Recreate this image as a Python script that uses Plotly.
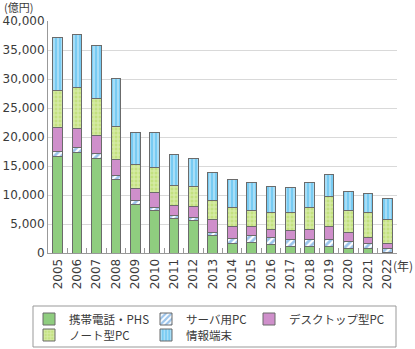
import plotly.graph_objects as go

years = [str(y) for y in range(2005, 2023)]
mobile = [16700, 17400, 16300, 12600, 8400, 7300, 5950, 5650, 3000, 1700, 1800, 1400, 1150, 1050, 1050, 850, 850, 150]
server = [800, 850, 800, 750, 700, 600, 600, 450, 600, 750, 1300, 1350, 1250, 1350, 1350, 1150, 800, 550]
desktop = [4100, 3200, 3100, 2850, 2100, 2600, 1700, 1900, 2250, 2150, 1500, 1350, 1500, 1700, 2250, 1450, 1050, 1000]
notebook = [6500, 7000, 6500, 5600, 4100, 4200, 3350, 3450, 3250, 3250, 2700, 2850, 3050, 3750, 5150, 3900, 4200, 4150]
info = [9000, 9150, 9000, 8250, 5500, 6100, 5400, 4900, 4700, 4750, 4850, 4500, 4300, 4300, 3800, 3250, 3350, 3550]

names = ["携帯電話・PHS", "サーバ用PC", "デスクトップ型PC", "ノート型PC", "情報端末"]
y_ticks = [0, 5000, 10000, 15000, 20000, 25000, 30000, 35000, 40000]

FONT = "Noto Sans CJK JP, Noto Sans, sans-serif"
NUMFONT = "DejaVu Sans, sans-serif"
TXT = "#3a3a3a"
W, H = 415, 349
ML, MR, MT, MB = 48, 18, 21, 96
PW, PH = W - ML - MR, H - MT - MB

def px_x(px):
    return (px - ML) / PW

def px_y(py):
    return (H - MB - py) / PH

line = dict(color="#6b6b6b", width=1)
fig = go.Figure()
fig.add_bar(x=years, y=mobile, name=names[0], legend="legend", showlegend=True,
            marker=dict(color="#8fcd7f", line=line))
fig.add_bar(x=years, y=server, name=names[1], legend="legend2", showlegend=True,
            marker=dict(color="#3a8ad8", line=line,
                        pattern=dict(shape="/", fgcolor="#3a8ad8", bgcolor="#ffffff", size=5, solidity=0.55)))
fig.add_bar(x=years, y=desktop, name=names[2], legend="legend3", showlegend=True,
            marker=dict(color="#cf8fcb", line=line))
fig.add_bar(x=years, y=notebook, name=names[3], legend="legend4", showlegend=True,
            marker=dict(color="#ffffff", line=line,
                        pattern=dict(shape="+", fgcolor="#f2f9e0", bgcolor="#c3e17f", size=4, solidity=0.45)))
fig.add_bar(x=years, y=info, name=names[4], legend="legend5", showlegend=True,
            marker=dict(color="#ffffff", line=line,
                        pattern=dict(shape="|", fgcolor="#eef9ff", bgcolor="#78cbf2", size=4, solidity=0.4)))

def leg(px, py):
    return dict(x=px_x(px), y=px_y(py), visible=True,
                xanchor="left", yanchor="middle", bgcolor="rgba(0,0,0,0)",
                borderwidth=0, font=dict(family=FONT, size=11.5, color=TXT))

fig.update_layout(
    width=W, height=H,
    margin=dict(l=ML, r=MR, t=MT, b=MB, autoexpand=False),
    barmode="stack", bargap=0.5, showlegend=True,
    plot_bgcolor="white", paper_bgcolor="white",
    font=dict(family=FONT, size=13, color=TXT),
    legend=leg(29, 319),
    legend2=leg(146, 319),
    legend3=leg(249, 319),
    legend4=leg(29, 335),
    legend5=leg(146, 335),
    xaxis=dict(type="category", tickangle=-90, showline=True, linecolor="#999999",
               ticks="inside", tickson="boundaries", ticklen=5, tickcolor="#999999",
               tickfont=dict(family=NUMFONT, size=12, color=TXT)),
    yaxis=dict(range=[0, 40000], tickvals=y_ticks, tickformat=",d",
               showgrid=True, gridcolor="#d9d9d9", gridwidth=1,
               showline=True, linecolor="#999999", zeroline=False,
               tickfont=dict(family=NUMFONT, size=12, color=TXT)),
    shapes=[dict(type="rect", xref="paper", yref="paper",
                 x0=px_x(33), x1=px_x(396), y0=px_y(347), y1=px_y(306),
                 line=dict(color="#999999", width=1))],
    annotations=[
        dict(text="(億円)", xref="paper", yref="paper", x=px_x(2), y=px_y(7),
             xanchor="left", yanchor="middle",
             showarrow=False, font=dict(size=11, color=TXT)),
        dict(text="(年)", xref="paper", yref="paper", x=px_x(415), y=px_y(265),
             xanchor="right", yanchor="middle",
             showarrow=False, font=dict(size=12, color=TXT)),
    ],
)

fig.write_html("out.html")
